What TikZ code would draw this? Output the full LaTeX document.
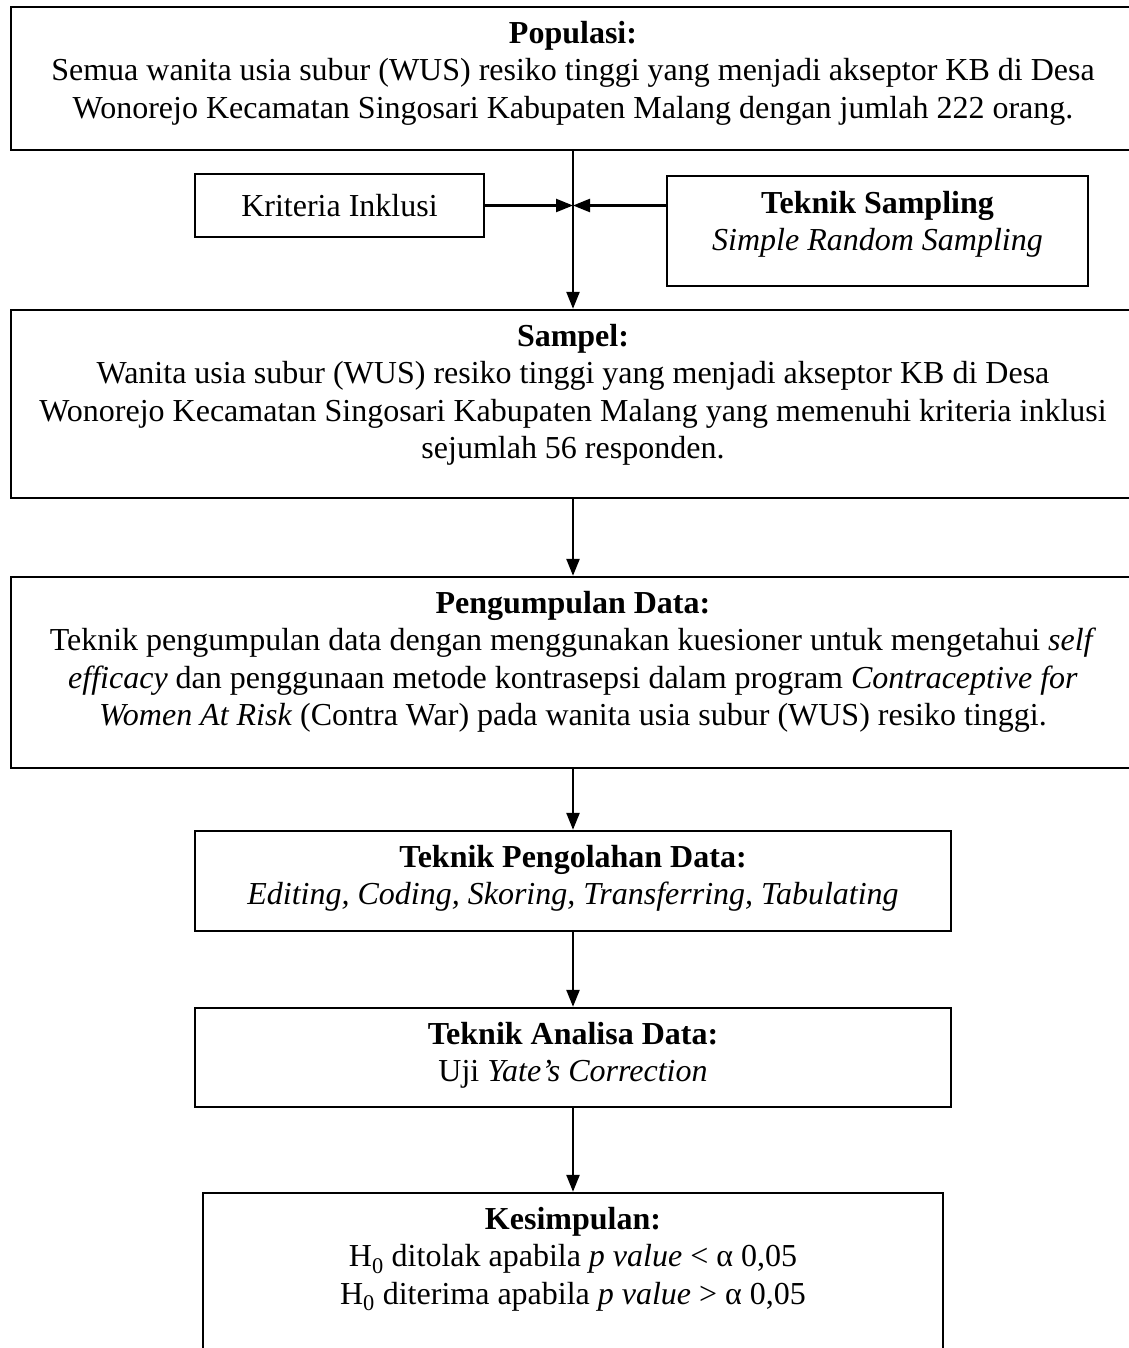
\documentclass[tikz,border=0pt]{standalone}
\usepackage{fontspec}
\setmainfont{Liberation Serif}
\usetikzlibrary{positioning, arrows.meta}

\begin{document}
\begin{tikzpicture}[
    x=1pt, y=-1pt,
    >={Triangle[length=17pt, width=13pt]},
    panel/.style={
        draw,
        line width=2.4pt,
        inner sep=0pt,
    },
    caption/.style={
        align=center,
        inner sep=0pt,
        font=\fontsize{32}{37.5}\selectfont,
    },
    arrow/.style={
        ->,
        line width=2.4pt,
    },
]
    \useasboundingbox (0,0) rectangle (1128,1348);

    % frames
    \node[panel, minimum width=1124pt, minimum height=143pt] (populasi) at (573,78.5) {};
    \node[panel, caption, minimum width=289pt, minimum height=63pt] (kriteria) at (339.5,205.5) {Kriteria Inklusi};
    \node[panel, minimum width=421pt, minimum height=110pt] (sampling) at (877.5,231) {};
    \node[panel, minimum width=1124pt, minimum height=188pt] (sampel) at (573,404) {};
    \node[panel, minimum width=1124pt, minimum height=191pt] (pengumpulan) at (573,672.5) {};
    \node[panel, minimum width=756pt, minimum height=100pt] (pengolahan) at (573,881) {};
    \node[panel, minimum width=756pt, minimum height=99pt] (analisa) at (573,1057.5) {};
    \node[panel, minimum width=740pt, minimum height=177pt] (kesimpulan) at (573,1281.5) {};

    % texts
    \node[caption, below=15pt of populasi.north] (populasi-text) {\textbf{Populasi:}\\
        Semua wanita usia subur (WUS) resiko tinggi yang menjadi akseptor KB di Desa\\
        Wonorejo Kecamatan Singosari Kabupaten Malang dengan jumlah 222 orang.};
    \node[caption, below=16pt of sampling.north] (sampling-text) {\textbf{Teknik Sampling}\\
        \textit{Simple Random Sampling}};
    \node[caption, below=15pt of sampel.north] (sampel-text) {\textbf{Sampel:}\\
        Wanita usia subur (WUS) resiko tinggi yang menjadi akseptor KB di Desa\\
        Wonorejo Kecamatan Singosari Kabupaten Malang yang memenuhi kriteria inklusi\\
        sejumlah 56 responden.};
    \node[caption, below=15pt of pengumpulan.north] (pengumpulan-text) {\textbf{Pengumpulan Data:}\\
        Teknik pengumpulan data dengan menggunakan kuesioner untuk mengetahui \textit{self}\\
        \textit{efficacy} dan penggunaan metode kontrasepsi dalam program \textit{Contraceptive for}\\
        \textit{Women At Risk} (Contra War) pada wanita usia subur (WUS) resiko tinggi.};
    \node[caption, below=15pt of pengolahan.north] (pengolahan-text) {\textbf{Teknik Pengolahan Data:}\\
        \textit{Editing, Coding, Skoring, Transferring, Tabulating}};
    \node[caption, below=15pt of analisa.north] (analisa-text) {\textbf{Teknik Analisa Data:}\\
        Uji \textit{Yate's Correction}};
    \node[caption, below=15pt of kesimpulan.north] (kesimpulan-text) {\textbf{Kesimpulan:}\\
        H\textsubscript{0} ditolak apabila \textit{p value} < α 0,05\\
        H\textsubscript{0} diterima apabila \textit{p value} > α 0,05};

    % connectors
    \coordinate (merge) at (populasi.south |- kriteria.east);
    \draw[arrow] (populasi) -- (sampel);
    \draw[arrow] (kriteria) -- (merge);
    \draw[arrow] (sampling.west |- merge) -- (merge);
    \draw[arrow] (sampel) -- (pengumpulan);
    \draw[arrow] (pengumpulan) -- (pengolahan);
    \draw[arrow] (pengolahan) -- (analisa);
    \draw[arrow] (analisa) -- (kesimpulan);

\end{tikzpicture}
\end{document}
